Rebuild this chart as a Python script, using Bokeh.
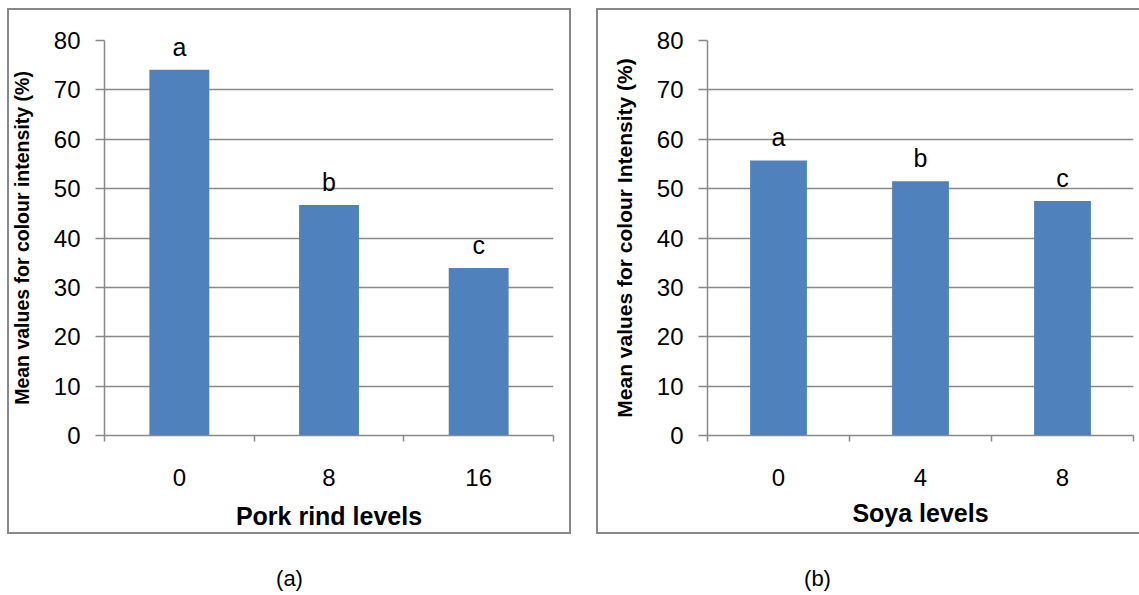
from bokeh.plotting import figure
from bokeh.models import ColumnDataSource, FixedTicker, Range1d, Spacer
from bokeh.layouts import row, column
from bokeh.core.properties import value
from bokeh.embed import file_html
from bokeh.resources import INLINE

# ---- data ----
pork_levels = ["0", "8", "16"]
pork_means = [74.1, 46.7, 33.9]
pork_letters = ["a", "b", "c"]

soya_levels = ["0", "4", "8"]
soya_means = [55.7, 51.5, 47.5]
soya_letters = ["a", "b", "c"]

y_ticks = [0, 10, 20, 30, 40, 50, 60, 70, 80]

FONT = "Liberation Sans"
GRAY = "#898989"
BAR = "#4F81BD"


def panel(levels, means, letters, xlabel, ylabel, width, height, mbl, mbr, mbt, mbb,
          ylabel_size, xlabel_standoff, styles):
    n = len(levels)
    centers = [i + 0.5 for i in range(n)]
    p = figure(width=width, height=height, x_range=Range1d(0, n), y_range=Range1d(0, y_ticks[-1]),
               output_backend="svg", toolbar_location=None,
               min_border_left=mbl, min_border_right=mbr, min_border_top=mbt, min_border_bottom=mbb)
    src = ColumnDataSource(dict(x=centers, top=means, letter=letters))
    p.vbar(x="x", top="top", bottom=0, width=0.4, source=src, fill_color=BAR, line_color=None)
    p.text(x="x", y="top", text="letter", source=src, text_align="center",
           text_baseline="alphabetic", y_offset=-23, text_font=value(FONT),
           text_font_size="25px", text_color="black")

    p.xgrid.visible = False
    p.ygrid.ticker = FixedTicker(ticks=y_ticks)
    p.ygrid.grid_line_color = GRAY
    p.ygrid.grid_line_width = 1.5
    p.outline_line_color = None
    p.background_fill_color = "white"
    p.border_fill_color = None

    xa = p.xaxis[0]
    xa.ticker = FixedTicker(ticks=centers, minor_ticks=list(range(n + 1)))
    xa.major_label_overrides = {c: l for c, l in zip(centers, levels)}
    xa.major_tick_out = 0
    xa.major_tick_in = 0
    xa.minor_tick_out = 6
    xa.minor_tick_in = 0
    xa.minor_tick_line_color = GRAY
    xa.minor_tick_line_width = 1.5
    xa.axis_line_color = GRAY
    xa.axis_line_width = 1.5
    xa.major_label_standoff = 27
    xa.major_label_text_font = FONT
    xa.major_label_text_font_size = "24px"
    xa.major_label_text_color = "black"
    xa.axis_label = xlabel
    xa.axis_label_text_font = FONT
    xa.axis_label_text_font_style = "bold"
    xa.axis_label_text_font_size = "25px"
    xa.axis_label_text_color = "black"
    xa.axis_label_standoff = xlabel_standoff

    ya = p.yaxis[0]
    ya.ticker = FixedTicker(ticks=y_ticks)
    ya.minor_tick_out = 0
    ya.minor_tick_in = 0
    ya.major_tick_out = 9
    ya.major_tick_in = 0
    ya.major_tick_line_color = GRAY
    ya.major_tick_line_width = 1.5
    ya.axis_line_color = GRAY
    ya.axis_line_width = 1.5
    ya.major_label_standoff = 15
    ya.major_label_text_font = FONT
    ya.major_label_text_font_size = "24px"
    ya.major_label_text_color = "black"
    ya.axis_label = ylabel
    ya.axis_label_text_font = FONT
    ya.axis_label_text_font_style = "bold"
    ya.axis_label_text_font_size = ylabel_size
    ya.axis_label_text_color = "black"
    ya.axis_label_standoff = 18

    p.styles = styles
    return p


def caption(text, width, height, cx, cy):
    c = figure(width=width, height=height, x_range=Range1d(0, width), y_range=Range1d(0, height),
               output_backend="svg", toolbar_location=None, x_axis_location=None, y_axis_location=None,
               min_border=0)
    c.grid.visible = False
    c.outline_line_color = None
    c.border_fill_color = None
    c.background_fill_color = None
    c.text(x=[cx], y=[cy], text=[text], text_align="center", text_baseline="middle",
           text_font=value(FONT), text_font_size="22px", text_color="black")
    return c


pA = panel(pork_levels, pork_means, pork_letters, "Pork rind levels",
           "Mean values for colour intensity (%)", 564, 526, 92, 18, 32, 99, "19.5px", 13,
           {"outline": "2px solid " + GRAY, "outline-offset": "-2px"})
pB = panel(soya_levels, soya_means, soya_letters, "Soya levels",
           "Mean values for colour Intensity (%)", 543, 526, 111, 6, 28, 97, "21px", 10,
           {"box-shadow": "inset 2px 0 0 %s, inset 0 2px 0 %s, inset 0 -2px 0 %s" % (GRAY, GRAY, GRAY)})

cA = caption("(a)", 564, 60, 282, 16)
cB = caption("(b)", 543, 60, 221, 16)

layout = column(
    Spacer(height=8),
    row(Spacer(width=7), pA, Spacer(width=25), pB),
    row(Spacer(width=7), cA, Spacer(width=25), cB),
)

with open("out.html", "w") as f:
    f.write(file_html(layout, INLINE))
